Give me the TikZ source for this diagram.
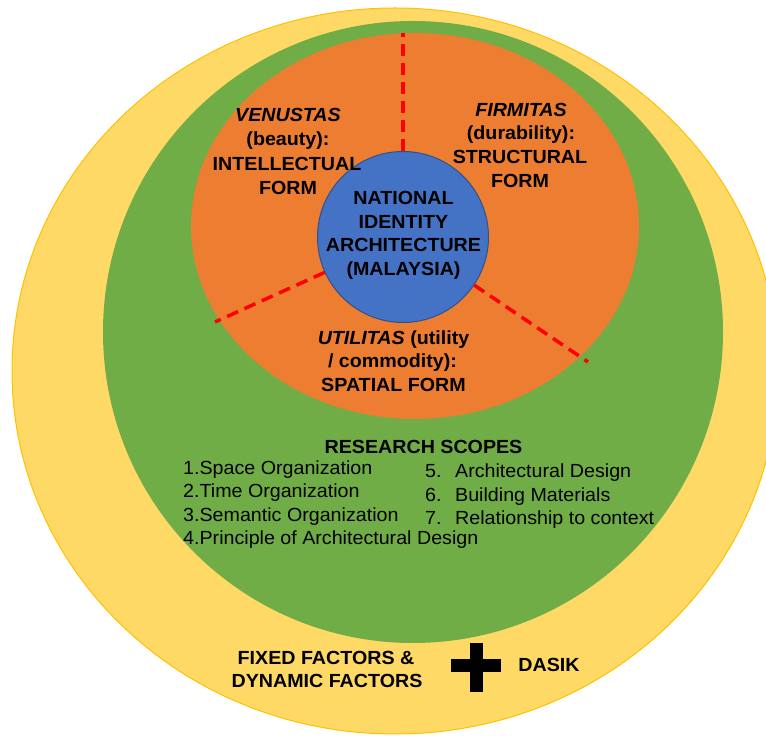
\documentclass[tikz,border=0pt]{standalone}
\usepackage{fontspec}
\setmainfont{Liberation Sans}[FakeStretch=1.035]
\usetikzlibrary{shapes.geometric}
\definecolor{ylw}{HTML}{FFD966}
\definecolor{ylwline}{HTML}{FFC000}
\definecolor{grn}{HTML}{70AD47}
\definecolor{org}{HTML}{ED7D31}
\definecolor{blu}{HTML}{4472C4}
\definecolor{bluline}{HTML}{2F528F}
\definecolor{rd}{HTML}{FF0000}
\tikzset{
  ring/.style={ellipse, inner sep=0pt},
  reddash/.style={rd, line width=3.5pt, dash pattern=on 12pt off 7pt},
  lbl/.style={font=\fontsize{19}{23}\selectfont\bfseries, inner sep=0pt, anchor=base, text=black},
  item/.style={font=\fontsize{19}{23}\selectfont, inner sep=0pt, anchor=base west, text=black},
}
\begin{document}
\begin{tikzpicture}[x=1pt,y=1pt]
\useasboundingbox (0,0) rectangle (766,736);
\clip (0,0) rectangle (766,736);
% rings
\node[ring, fill=ylw, draw=ylwline, line width=1pt, minimum width=766pt, minimum height=726pt] (yellow) at (395,365) {};
\node[ring, fill=grn, minimum width=620pt, minimum height=622pt] (green) at (413,404) {};
\node[ring, fill=org, minimum width=448pt, minimum height=386pt] (orange) at (415,510) {};
\node[circle, fill=blu, draw=bluline, line width=1pt, minimum size=171pt, inner sep=0pt] (blue) at (403,499) {};
% dashed dividers
\coordinate (dtop) at (403,703);
\coordinate (dleft) at (215,414);
\coordinate (dright) at (588,374);
\draw[reddash] (blue) -- (dtop);
\draw[reddash] (blue) -- (dleft);
\draw[reddash] (blue) -- (dright);
% centre text
\node[lbl] (n1) at (403.5,531) {NATIONAL};
\node[lbl] (n2) at (403.5,507.5) {IDENTITY};
\node[lbl] (n3) at (403.5,484) {ARCHITECTURE};
\node[lbl] (n4) at (403.5,460.5) {(MALAYSIA)};
% venustas
\node[lbl] (v1) at (288,614) {\itshape VENUSTAS};
\node[lbl] (v2) at (288,590) {(beauty):};
\node[lbl] (v3) at (287,565) {INTELLECTUAL};
\node[lbl] (v4) at (288,541) {FORM};
% firmitas
\node[lbl] (f1) at (521,619) {\itshape FIRMITAS};
\node[lbl] (f2) at (521,596) {(durability):};
\node[lbl] (f3) at (520,572) {STRUCTURAL};
\node[lbl] (f4) at (520,548) {FORM};
% utilitas
\node[lbl] (u1) at (393.5,391) {{\itshape UTILITAS} (utility};
\node[lbl] (u2) at (392.5,368) {/ commodity):};
\node[lbl] (u3) at (393.5,344) {SPATIAL FORM};
% research scopes
\node[lbl] (rs) at (423.5,282) {RESEARCH SCOPES};
\node[item] (r1) at (183,261) {1.Space Organization};
\node[item] (r2) at (183,238) {2.Time Organization};
\node[item] (r3) at (183,214) {3.Semantic Organization};
\node[item] (r4) at (183,191) {4.Principle of Architectural Design};
\node[item] (r5) at (425,258) {\makebox[30pt][l]{5.}Architectural Design};
\node[item] (r6) at (425,234) {\makebox[30pt][l]{6.}Building Materials};
\node[item] (r7) at (425,211) {\makebox[30pt][l]{7.}Relationship to context};
% bottom
\node[lbl] (b1) at (326,71) {FIXED FACTORS \&};
\node[lbl] (b2) at (327,48) {DYNAMIC FACTORS};
\fill[black] (469.5,44) rectangle (482.5,93);
\fill[black] (451,63.5) rectangle (501,76.5);
\node[lbl] (dasik) at (549,64) {DASIK};
\end{tikzpicture}
\end{document}
